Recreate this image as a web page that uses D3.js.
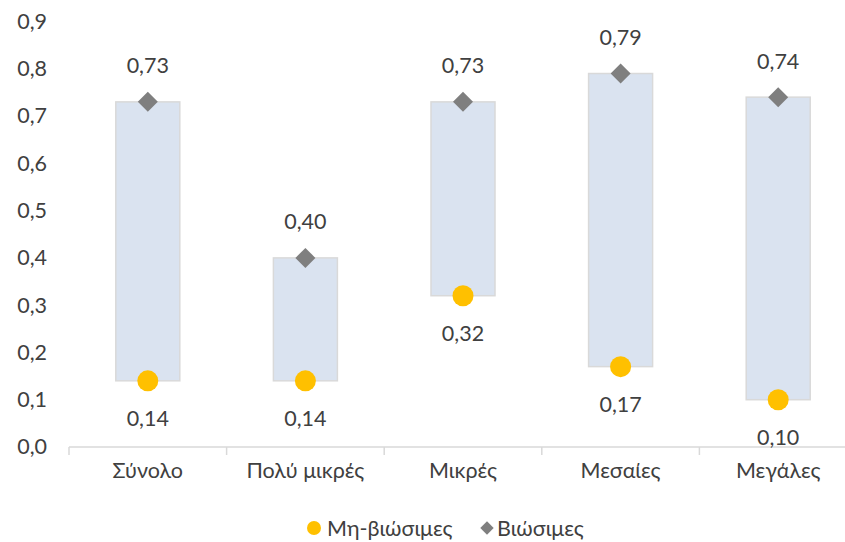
<!DOCTYPE html>
<html>
<head>
<meta charset="utf-8">
<script src="https://cdn.jsdelivr.net/npm/d3@7/dist/d3.min.js"></script>
<style>
  html, body { margin: 0; padding: 0; background: #fff; }
  svg { display: block; font-family: Lato, "Open Sans", sans-serif; }
</style>
</head>
<body>
<svg id="chart" width="845" height="542"></svg>
<script>
// Size categories and the two indicator series
const categories = ["Σύνολο", "Πολύ μικρές", "Μικρές", "Μεσαίες", "Μεγάλες"];
const nonViable = [0.14, 0.14, 0.32, 0.17, 0.10];   // Μη-βιώσιμες
const viable    = [0.73, 0.40, 0.73, 0.79, 0.74];   // Βιώσιμες
const yTicks = [0, 0.1, 0.2, 0.3, 0.4, 0.5, 0.6, 0.7, 0.8, 0.9];
const seriesNames = ["Μη-βιώσιμες", "Βιώσιμες"];

const fmt = v => d3.format(".2f")(v).replace(".", ",");
const fmtTick = v => d3.format(".1f")(v).replace(".", ",");

const svg = d3.select("#chart");
const textColor = "#404040";
const fontSize = "21.5px";

const x = d3.scaleBand().domain(categories).range([69, 857]).paddingInner(0).paddingOuter(0);
const y = d3.scaleLinear().domain([0, 0.9]).range([447, 21.5]);

// y axis: labels only
const yAxis = d3.axisLeft(y).tickValues(yTicks).tickFormat(fmtTick).tickSize(0).tickPadding(0);
const gy = svg.append("g").attr("transform", "translate(47,0)").call(yAxis);
gy.select(".domain").remove();
gy.selectAll("text").attr("fill", textColor).style("font-size", fontSize).style("font-family", "Lato, sans-serif");

// x axis with category separators
const gx = svg.append("g").attr("transform", `translate(0,${y(0)})`);
gx.append("line").attr("x1", 69).attr("x2", 857).attr("y1", 0).attr("y2", 0)
  .attr("stroke", "#d9d9d9").attr("stroke-width", 1.5);
categories.forEach(c => {
  gx.append("line").attr("x1", x(c)).attr("x2", x(c)).attr("y1", 0).attr("y2", 8)
    .attr("stroke", "#d9d9d9").attr("stroke-width", 1.5);
});
gx.selectAll("text.cat").data(categories).join("text")
  .attr("class", "cat")
  .attr("x", d => x(d) + x.bandwidth() / 2)
  .attr("y", 31)
  .attr("text-anchor", "middle")
  .attr("fill", textColor)
  .style("font-size", fontSize)
  .text(d => d);

// floating range bars between the two values
const barW = 64;
svg.append("g").selectAll("rect").data(categories).join("rect")
  .attr("x", d => x(d) + x.bandwidth() / 2 - barW / 2)
  .attr("width", barW)
  .attr("y", (d, i) => y(viable[i]))
  .attr("height", (d, i) => y(nonViable[i]) - y(viable[i]))
  .attr("fill", "#dae3f0")
  .attr("stroke", "#d9d9d9")
  .attr("stroke-width", 1.5);

// non-viable markers (circles)
svg.append("g").selectAll("circle").data(categories).join("circle")
  .attr("cx", d => x(d) + x.bandwidth() / 2)
  .attr("cy", (d, i) => y(nonViable[i]))
  .attr("r", 10.5)
  .attr("fill", "#ffc000");

// viable markers (diamonds)
const diamond = d3.symbol().type(d3.symbolSquare).size(200);
svg.append("g").selectAll("path").data(categories).join("path")
  .attr("d", diamond)
  .attr("transform", (d, i) => `translate(${x(d) + x.bandwidth() / 2},${y(viable[i])}) rotate(45)`)
  .attr("fill", "#7f7f7f");

// value labels
svg.append("g").selectAll("text").data(categories).join("text")
  .attr("x", d => x(d) + x.bandwidth() / 2)
  .attr("y", (d, i) => y(viable[i]) - 36)
  .attr("dy", "0.35em")
  .attr("text-anchor", "middle")
  .attr("fill", textColor)
  .style("font-size", fontSize)
  .text((d, i) => fmt(viable[i]));

svg.append("g").selectAll("text").data(categories).join("text")
  .attr("x", d => x(d) + x.bandwidth() / 2)
  .attr("y", (d, i) => y(nonViable[i]) + 38)
  .attr("dy", "0.35em")
  .attr("text-anchor", "middle")
  .attr("fill", textColor)
  .style("font-size", fontSize)
  .text((d, i) => fmt(nonViable[i]));

// legend
const lg = svg.append("g").attr("transform", "translate(0,528)");
lg.append("circle").attr("cx", 314).attr("cy", 0).attr("r", 7).attr("fill", "#ffc000");
lg.append("text").attr("x", 327).attr("y", 0).attr("dy", "0.35em")
  .attr("fill", textColor).style("font-size", fontSize).text(seriesNames[0]);
lg.append("path").attr("d", d3.symbol().type(d3.symbolSquare).size(90))
  .attr("transform", "translate(487,0) rotate(45)").attr("fill", "#7f7f7f");
lg.append("text").attr("x", 497).attr("y", 0).attr("dy", "0.35em")
  .attr("fill", textColor).style("font-size", fontSize).text(seriesNames[1]);
</script>
</body>
</html>
